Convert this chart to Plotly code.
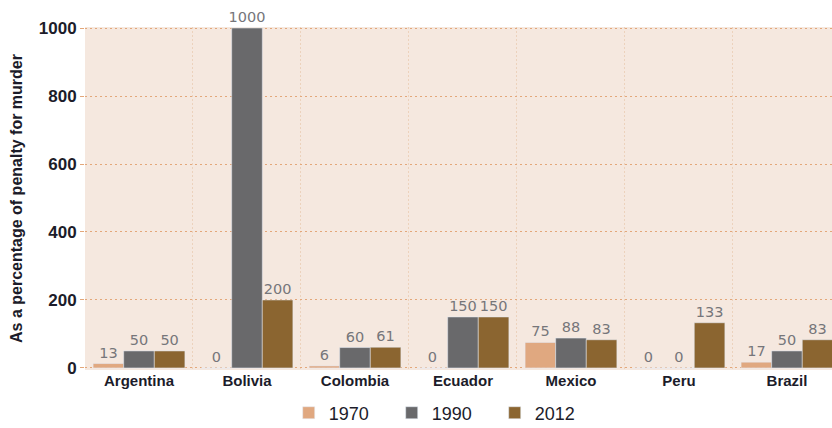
import plotly.graph_objects as go

countries = ["Argentina", "Bolivia", "Colombia", "Ecuador", "Mexico", "Peru", "Brazil"]
v1970 = [13, 0, 6, 0, 75, 0, 17]
v1990 = [50, 1000, 60, 150, 88, 0, 50]
v2012 = [50, 200, 61, 150, 83, 133, 83]
years = ["1970", "1990", "2012"]
colors = ["#e0a880", "#69696b", "#8b6530"]

fig = go.Figure()
for name, vals, col in zip(years, [v1970, v1990, v2012], colors):
    fig.add_trace(go.Bar(
        x=countries, y=vals, name=name, marker_color=col,
        text=[str(v) for v in vals], textposition="outside",
        textfont=dict(color="#76767a", size=14.5, family="DejaVu Sans"),
        cliponaxis=False, constraintext="none",
    ))

fig.update_layout(
    width=832, height=428,
    margin=dict(l=85, r=0, t=27, b=58),
    paper_bgcolor="white", plot_bgcolor="#f5e8df",
    barmode="group", bargap=0.15, bargroupgap=0,
    font=dict(family="Liberation Sans", color="#1c1c2a"),
    showlegend=True,
    legend=dict(orientation="h", x=0.347, xref="container", xanchor="left",
                y=0.035, yref="container", yanchor="middle",
                font=dict(size=18, color="#1c1c2a"), itemwidth=30, traceorder="normal",
                entrywidth=58, entrywidthmode="pixels"),
)
fig.update_xaxes(
    range=[-0.5, 6.417], tickson="boundaries", showgrid=True,
    gridcolor="#ecd2bc", griddash="2px,2px", gridwidth=1,
    ticks="", tickfont=dict(size=15, color="#1c1c2a", weight="bold"), showline=False, zeroline=False,
)
fig.update_yaxes(
    range=[-6, 1003], tickvals=[0, 200, 400, 600, 800, 1000],
    showgrid=True, gridcolor="#e3a77a", griddash="2px,3px", gridwidth=1,
    ticks="outside", ticklen=4, tickcolor="#e3a77a",
    tickfont=dict(size=17, color="#1c1c2a", weight="bold"),
    zeroline=False,
    title=dict(text="As a percentage of penalty for murder",
               font=dict(size=16, color="#1c1c2a", weight="bold"), standoff=12),
)
fig.write_html("out.html")
